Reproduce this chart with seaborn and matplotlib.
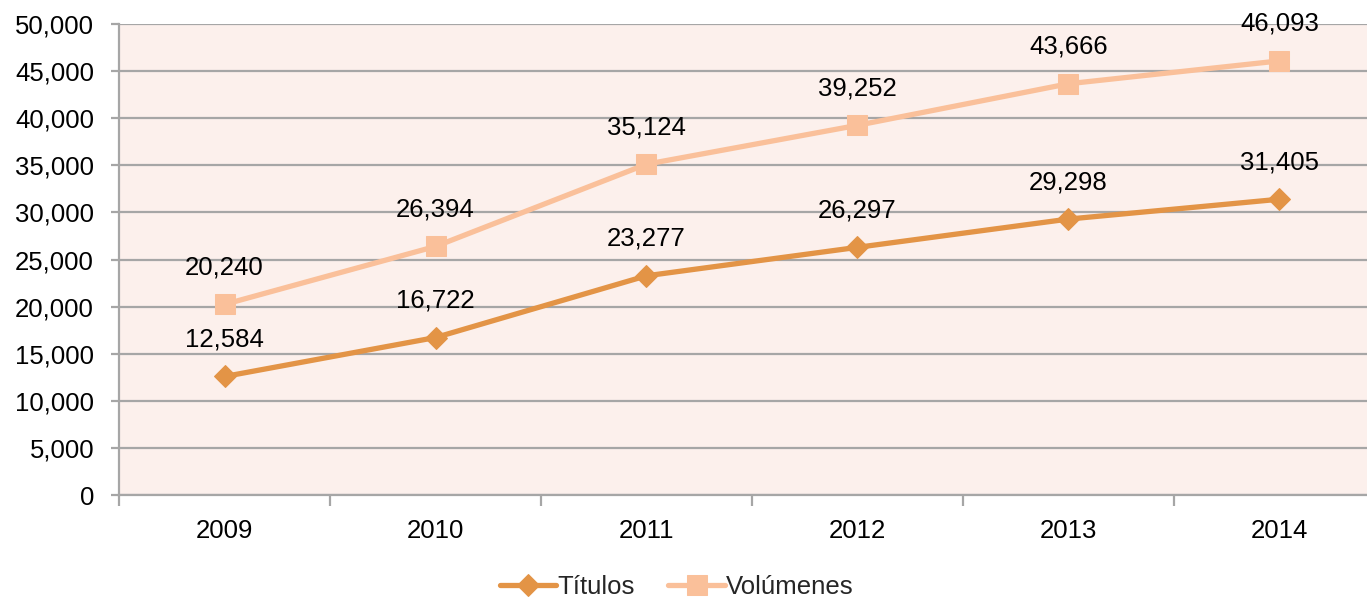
import matplotlib
matplotlib.use("Agg")
import matplotlib.pyplot as plt
import seaborn as sns
import pandas as pd
from matplotlib.ticker import FuncFormatter, FixedLocator

years = ["2009", "2010", "2011", "2012", "2013", "2014"]
titulos = [12584, 16722, 23277, 26297, 29298, 31405]
volumenes = [20240, 26394, 35124, 39252, 43666, 46093]
series_names = ["Títulos", "Volúmenes"]
colors = ["#E39446", "#FAC09A"]
markers = ["D", "s"]

df = pd.DataFrame({
    "year": years * 2,
    "value": titulos + volumenes,
    "serie": [series_names[0]] * len(years) + [series_names[1]] * len(years),
})

sns.set_theme(style="white")
plt.rcParams["font.family"] = ["Liberation Sans", "DejaVu Sans"]
FS = 18.5

fig = plt.figure(figsize=(13.67, 6.02), dpi=100)
ax = fig.add_axes([0.0871, 0.1777, 0.926, 0.7823])
ax.set_facecolor("#FCF0EC")

for name, col, mk in zip(series_names, colors, markers):
    sub = df[df["serie"] == name]
    sns.lineplot(data=sub, x="year", y="value", ax=ax, color=col, linewidth=3.8,
                 marker=mk, markersize=14 if mk == "s" else 11.5,
                 markeredgecolor=col, label=name, sort=False)
    for i, v in enumerate(sub["value"]):
        ax.annotate(f"{v:,}", (i, v), xytext=(0, 18), textcoords="offset points",
                    ha="center", va="bottom", fontsize=FS, color="#000000")

ax.set_xlim(-0.5, 5.5)
ax.set_ylim(0, 50000)
ax.set_yticks(range(0, 50001, 5000))
ax.yaxis.set_major_formatter(FuncFormatter(lambda v, p: f"{int(v):,}"))
ax.grid(axis="y", color="#A6A6A6", linewidth=1.6)
ax.set_axisbelow(True)
ax.set_xlabel("")
ax.set_ylabel("")

ax.xaxis.set_minor_locator(FixedLocator([i - 0.5 for i in range(len(years) + 1)]))
ax.tick_params(axis="x", which="major", length=0, pad=17, labelsize=FS, colors="#000000")
ax.tick_params(axis="x", which="minor", length=8, width=1.6, color="#A6A6A6", bottom=True)
ax.tick_params(axis="y", length=6, width=1.6, color="#A6A6A6", left=True, labelsize=FS,
               colors="#000000", pad=12)
for lbl in ax.get_yticklabels() + ax.get_xticklabels():
    lbl.set_color("#000000")

for s in ["top", "right"]:
    ax.spines[s].set_visible(False)
for s in ["left", "bottom"]:
    ax.spines[s].set_color("#A6A6A6")
    ax.spines[s].set_linewidth(1.6)

ax.legend(loc="lower center", bbox_to_anchor=(0.495, -0.034), bbox_transform=fig.transFigure,
          ncol=2, frameon=False, fontsize=FS, handlelength=2.2, handletextpad=0.05,
          columnspacing=1.3)

fig.savefig("out.png", dpi=100)
